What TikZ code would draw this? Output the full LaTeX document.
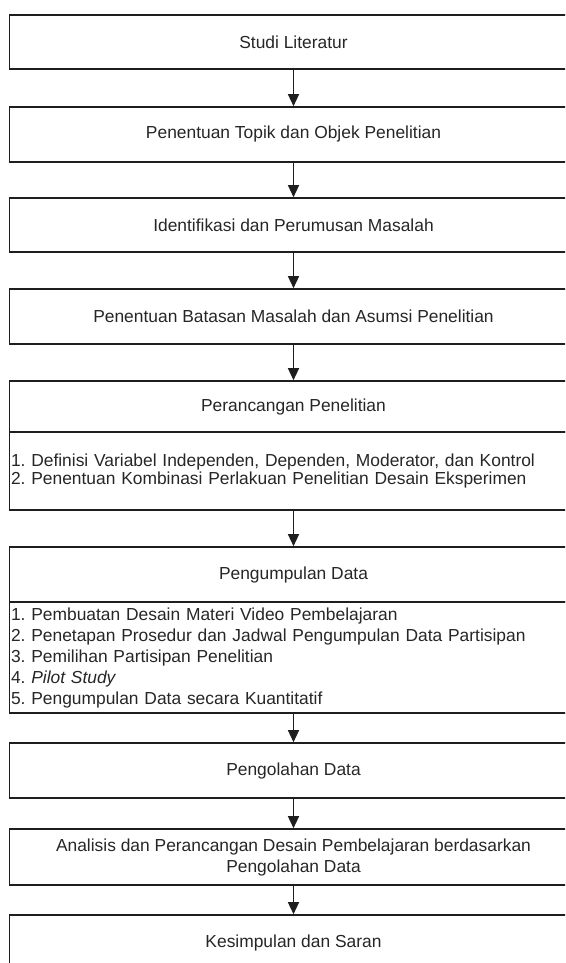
\documentclass[tikz,border=0pt]{standalone}
\usepackage{fontspec}
\setmainfont{Liberation Sans}
\usepackage{xcolor}
\usepackage{tikz}
\usetikzlibrary{arrows.meta}
\frenchspacing

\definecolor{inkline}{HTML}{1E1E1E}
\definecolor{inktext}{HTML}{262626}

\tikzset{
    stepbox/.style={draw=inkline, line width=1.6pt, minimum width=568pt, minimum height=55pt,
        inner sep=0pt, align=center, text=inktext, font=\fontsize{17.4}{21}\selectfont},
    listbox/.style={stepbox, text width=565pt, align=left},
    flowarrow/.style={draw=inkline, line width=1.4pt, -{Triangle[width=11pt,length=12pt]}}
}

\begin{document}
\begin{tikzpicture}[x=1pt, y=-1pt]
    \useasboundingbox (0,0) rectangle (565,963);
    \clip (0,0) rectangle (565,963);

    \node[stepbox, minimum height=54pt] (studi) at (293.5,42) {Studi Literatur};
    \node[stepbox] (topik) at (293.5,134.5) {Penentuan Topik dan Objek Penelitian};
    \node[stepbox, minimum height=54pt] (identifikasi) at (293.5,225) {Identifikasi dan Perumusan Masalah};
    \node[stepbox] (batasan) at (293.5,316.5) {Penentuan Batasan Masalah dan Asumsi Penelitian};

    % perancangan: judul + isi
    \node[stepbox, minimum height=51pt] (rancang) at (293.5,406.5) {Perancangan Penelitian};
    \node[listbox, minimum height=78pt, font=\fontsize{17.4}{18.5}\selectfont] (rancangisi) at (293.5,471)
        {1. Definisi Variabel Independen, Dependen, Moderator, dan Kontrol\\
         2. Penentuan Kombinasi Perlakuan Penelitian Desain Eksperimen};

    % pengumpulan: judul + isi
    \node[stepbox] (kumpul) at (293.5,574.5) {Pengumpulan Data};
    \node[listbox, minimum height=111pt] (kumpulisi) at (293.5,657.5)
        {1. Pembuatan Desain Materi Video Pembelajaran\\
         2. Penetapan Prosedur dan Jadwal Pengumpulan Data Partisipan\\
         3. Pemilihan Partisipan Penelitian\\
         4. \textit{Pilot Study}\\
         5. Pengumpulan Data secara Kuantitatif};

    \node[stepbox] (olah) at (293.5,770.5) {Pengolahan Data};
    \node[stepbox, minimum height=56pt] (analisis) at (293.5,857)
        {Analisis dan Perancangan Desain Pembelajaran berdasarkan\\ Pengolahan Data};
    \node[stepbox] (simpulan) at (293.5,942.5) {Kesimpulan dan Saran};

    \draw[flowarrow] (studi) -- (topik);
    \draw[flowarrow] (topik) -- (identifikasi);
    \draw[flowarrow] (identifikasi) -- (batasan);
    \draw[flowarrow] (batasan) -- (rancang);
    \draw[flowarrow] (rancangisi) -- (kumpul);
    \draw[flowarrow] (kumpulisi) -- (olah);
    \draw[flowarrow] (olah) -- (analisis);
    \draw[flowarrow] (analisis) -- (simpulan);
\end{tikzpicture}
\end{document}
